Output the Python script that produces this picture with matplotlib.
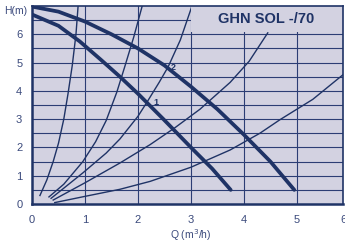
import matplotlib.pyplot as plt
from matplotlib.patches import Rectangle

plt.rcParams['font.family'] = ['Liberation Sans', 'DejaVu Sans']

# pump curves (Q m3/h, H m)
q_speed2 = [0, 0.5, 1.0, 1.5, 2.0, 2.5, 3.0, 3.5, 4.0, 4.5, 4.95]
h_speed2 = [6.98, 6.8, 6.45, 6.0, 5.5, 4.9, 4.15, 3.35, 2.45, 1.5, 0.5]
q_speed1 = [0, 0.5, 0.9, 1.3, 1.66, 2.0, 2.48, 3.0, 3.4, 3.75]
h_speed1 = [6.7, 6.3, 5.75, 5.1, 4.5, 3.9, 3.0, 2.0, 1.25, 0.5]

# system curves
sys_a_q = [0.15, 0.28, 0.4, 0.5, 0.6, 0.68, 0.76, 0.83, 0.87]
sys_a_h = [0.3, 0.85, 1.5, 2.15, 3.0, 3.9, 4.9, 6.0, 7.0]
sys_b_q = [0.32, 0.6, 0.96, 1.2, 1.4, 1.6, 1.75, 1.92, 2.08]
sys_b_h = [0.25, 0.7, 1.5, 2.2, 2.95, 3.95, 4.85, 5.9, 7.0]
sys_c_q = [0.36, 0.96, 1.4, 1.66, 2.0, 2.17, 2.4, 2.57, 2.8, 3.02]
sys_c_h = [0.2, 1.1, 1.8, 2.3, 3.1, 3.6, 4.3, 4.85, 5.8, 7.0]
sys_d_q = [0.4, 1.0, 1.66, 2.23, 2.7, 3.17, 3.74, 4.1, 4.45]
sys_d_h = [0.14, 0.75, 1.45, 2.1, 2.7, 3.35, 4.3, 5.05, 6.05]
sys_e_q = [0.43, 1.0, 1.66, 2.23, 3.0, 3.74, 4.3, 4.68, 5.3, 5.87]
sys_e_h = [0.05, 0.27, 0.52, 0.8, 1.3, 1.91, 2.5, 2.98, 3.7, 4.57]

x_ticks = [0, 1, 2, 3, 4, 5, 5.87]
x_labels = ['0', '1', '2', '3', '4', '5', '6']
y_ticks = [0, 1, 2, 3, 4, 5, 6]

navy = '#1f3366'
bg = '#d3d2e1'
txt = '#3b4a7c'
gridc = '#2c3d74'

fig = plt.figure(figsize=(3.45, 2.44), dpi=100)
ax = fig.add_axes([32/345, 40/244, 311/345, 198/244])
ax.set_facecolor(bg)
ax.set_xlim(0, 5.87)
ax.set_ylim(0, 7.0)

# grid
for y in [0.5*i for i in range(1, 14)]:
    ax.axhline(y, color=gridc, lw=0.8, zorder=1)
for x in [1, 2, 3, 4, 5]:
    ax.axvline(x, color=gridc, lw=0.8, zorder=1)

for q, h in [(sys_a_q, sys_a_h), (sys_b_q, sys_b_h), (sys_c_q, sys_c_h),
             (sys_d_q, sys_d_h), (sys_e_q, sys_e_h)]:
    ax.plot(q, h, color=navy, lw=1.0, zorder=2)

ax.plot(q_speed2, h_speed2, color=navy, lw=2.7, zorder=3, solid_capstyle='round')
ax.plot(q_speed1, h_speed1, color=navy, lw=2.7, zorder=3, solid_capstyle='round')

ax.text(2.62, 4.75, '2', color=navy, fontsize=6.5, fontweight='bold', zorder=4)
ax.text(2.3, 3.5, '1', color=navy, fontsize=6.5, fontweight='bold', zorder=4)

# title box
ax.add_patch(Rectangle((3.0, 6.07), 2.87, 0.93, facecolor=bg, edgecolor='none', zorder=5))
ax.text(4.42, 6.55, 'GHN SOL -/70', color=navy, fontsize=10.5, fontweight='bold',
        ha='center', va='center', zorder=6)

for s in ['left', 'bottom']:
    ax.spines[s].set_color(navy)
    ax.spines[s].set_linewidth(1.8)
for s in ['top', 'right']:
    ax.spines[s].set_color(navy)
    ax.spines[s].set_linewidth(1.2)
for s in ax.spines.values():
    s.set_zorder(7)

ax.set_xticks(x_ticks)
ax.set_xticklabels(x_labels)
ax.set_yticks(y_ticks)
ax.tick_params(length=0, labelsize=8, labelcolor=txt, pad=8)
ax.tick_params(axis='y', pad=7)

fig.text(16/345, 1 - 11/244, 'H(m)', color=txt, fontsize=7.5, ha='center', va='center')
fig.text(191/345, 1 - 235/244, 'Q (m$^3$/h)', color=txt, fontsize=7.5, ha='center', va='center')

fig.savefig('out.png', dpi=100)
